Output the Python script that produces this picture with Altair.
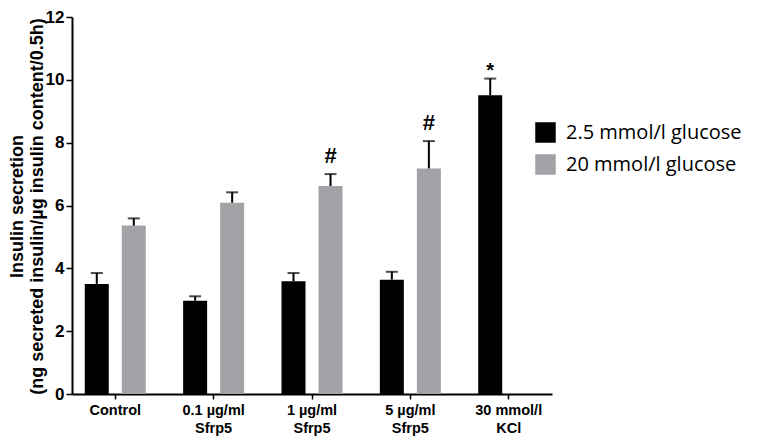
import altair as alt
import pandas as pd

categories = ["Control", "0.1 µg/ml\nSfrp5", "1 µg/ml\nSfrp5", "5 µg/ml\nSfrp5", "30 mmol/l\nKCl"]
groups = ["2.5 mmol/l glucose", "20 mmol/l glucose"]
low_mean = [3.50, 2.97, 3.59, 3.64, 9.51]
low_err = [0.35, 0.14, 0.26, 0.25, 0.53]
low_mark = ["", "", "", "", "*"]
high_mean = [5.36, 6.09, 6.62, 7.18, None]
high_err = [0.23, 0.33, 0.38, 0.87, None]
high_mark = ["", "", "#", "#", ""]
colors = ["#000000", "#a3a3a7"]

rows = []
for i, c in enumerate(categories):
    rows.append(dict(cat=c, grp=groups[0], mean=low_mean[i], top=low_mean[i] + low_err[i], mark=low_mark[i]))
    if high_mean[i] is not None:
        rows.append(dict(cat=c, grp=groups[1], mean=high_mean[i], top=high_mean[i] + high_err[i], mark=high_mark[i]))
df = pd.DataFrame(rows)

xenc = alt.X("cat:N", sort=categories,
             scale=alt.Scale(paddingInner=0.12, paddingOuter=0),
             axis=alt.Axis(title=None, labelAngle=0, labelExpr="split(datum.label, '\\n')",
                           labelFont="Liberation Sans", labelFontWeight="bold", labelFontSize=14.5,
                           labelColor="black", labelPadding=4, labelLineHeight=18,
                           tickColor="black", tickSize=5, tickWidth=1.5,
                           domainColor="black", domainWidth=2))
xoff = alt.XOffset("grp:N", sort=groups, scale=alt.Scale(paddingInner=0, paddingOuter=0.169))
yscale = alt.Scale(domain=[0, 12], nice=False)
color = alt.Color("grp:N", sort=groups, scale=alt.Scale(domain=groups, range=colors),
                  legend=alt.Legend(title=None, orient="none", legendX=463, legendY=105,
                                    symbolType="square", symbolSize=420, symbolStrokeWidth=0,
                                    labelFont="Open Sans", labelFontSize=20, labelColor="black",
                                    labelLimit=0, rowPadding=11, labelOffset=10))

base = alt.Chart(df)

bars = base.mark_bar(width=24).encode(
    x=xenc, xOffset=xoff,
    y=alt.Y("mean:Q", scale=yscale,
            axis=alt.Axis(title=["Insulin secretion", "(ng secreted insulin/µg insulin content/0.5h)"],
                          titleFont="Liberation Sans", titleFontWeight="bold", titleFontSize=18,
                          titleColor="black", titleLineHeight=20,
                          titleX=-46, titleY=189, titleAngle=270, titleBaseline="bottom",
                          titleAlign="center",
                          values=[0, 2, 4, 6, 8, 10, 12], grid=False,
                          labelFont="Liberation Sans", labelFontWeight="bold", labelFontSize=17,
                          labelColor="black", labelPadding=2,
                          tickColor="black", tickSize=6, tickWidth=1.5,
                          domainColor="black", domainWidth=2)),
    color=color,
)

rules = base.mark_rule(color="black", strokeWidth=2).encode(
    x=xenc, xOffset=xoff, y=alt.Y("mean:Q", scale=yscale), y2="top:Q")

caps = base.mark_tick(color="black", thickness=2, size=12, orient="horizontal").encode(
    x=xenc, xOffset=xoff, y=alt.Y("top:Q", scale=yscale))

hash_text = base.transform_filter("datum.mark == '#'").mark_text(
    font="Liberation Sans", fontWeight="bold", fontSize=22, color="black",
    baseline="bottom", dy=-6).encode(
    x=xenc, xOffset=xoff, y=alt.Y("top:Q", scale=yscale), text="mark:N")

star_text = base.transform_filter("datum.mark == '*'").mark_text(
    font="Liberation Sans", fontWeight="bold", fontSize=20, color="black",
    baseline="bottom", dy=2).encode(
    x=xenc, xOffset=xoff, y=alt.Y("top:Q", scale=yscale), text="mark:N")

chart = alt.layer(bars, rules, caps, hash_text, star_text).properties(
    width=480, height=377,
    autosize=alt.AutoSizeParams(type="none"),
    padding={"left": 64, "top": 9, "right": 203, "bottom": 44},
).configure_view(stroke=None)

chart.save("out.html", embed_options={"renderer": "svg", "actions": False})
